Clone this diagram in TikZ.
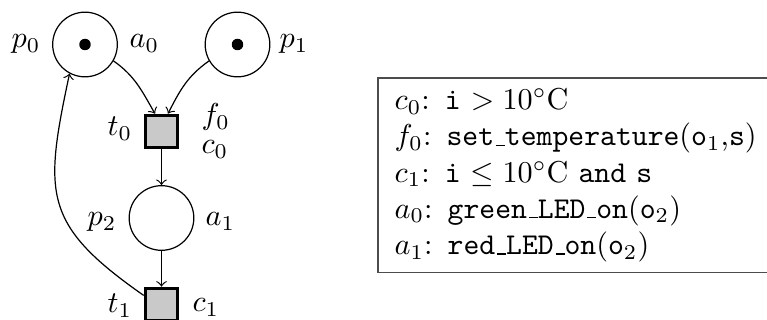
\documentclass[tikz,border=0pt]{standalone}
\newcommand{\usc}{\kern.06em\vbox{\hrule width.3em}}
\begin{document}
\begin{tikzpicture}[x=0.331pt,y=0.331pt,
  place/.style={circle,draw,line width=0.4pt,minimum size=21.4pt,inner sep=0pt},
  trans/.style={rectangle,draw,line width=1pt,fill=black!21,minimum size=10.8pt,inner sep=0pt},
  token/.style={circle,fill=black,minimum size=3.8pt,inner sep=0pt},
  lab/.style={inner sep=0pt,anchor=base west},
  arc/.style={->,line width=0.4pt},
  legendbox/.style={draw=black!70,line width=0.5pt,align=left,text width=130pt,
    inner xsep=5.6pt,minimum height=60.5pt,anchor=north west}]
\useasboundingbox (0,0) rectangle (767,320);
% places and transitions
\node[place] (p0) at (85,275.5) {};
\node[place] (p1) at (237.5,275.5) {};
\node[trans] (t0) at (161.5,188.5) {};
\node[place] (p2) at (161.5,102) {};
\node[trans] (t1) at (161.5,15.5) {};
\node[token] (k0) at (p0) {};
\node[token] (k1) at (p1) {};
% labels
\node[lab] (lp0) at (11,272) {$p_0$};
\node[lab] (la0) at (129,272) {$a_0$};
\node[lab] (lp1) at (279,272) {$p_1$};
\node[lab] (lt0) at (107,184) {$t_0$};
\node[lab] (lf0) at (201,195.5) {$f_0$};
\node[lab] (lc0) at (201,166.5) {$c_0$};
\node[lab] (lp2) at (87,94) {$p_2$};
\node[lab] (la1) at (205,94) {$a_1$};
\node[lab] (lt1) at (107,7.5) {$t_1$};
\node[lab] (lc1) at (192,8.5) {$c_1$};
% arcs
\draw[arc] (p0.-30) to[out=-35,in=120] (t0.110);
\draw[arc] (p1.210) to[out=215,in=63] (t0.70);
\draw[arc] (t0) -- (p2);
\draw[arc] (p2) -- (t1);
\draw[arc] (t1.153) to[out=145,in=258,looseness=1.35] (p0.242);
% legend
\node[legendbox] (legend) at (377,242.5) {%
$c_0$: \texttt{i} $> 10^\circ$C\\
$f_0$: \texttt{set\usc temperature}(\texttt{o}$_1$,\texttt{s})\\
$c_1$: \texttt{i} $\leq 10^\circ$C \texttt{and s}\\
$a_0$: \texttt{green\usc LED\usc on}(\texttt{o}$_2$)\\
$a_1$: \texttt{red\usc LED\usc on}(\texttt{o}$_2$)};
\end{tikzpicture}
\end{document}
